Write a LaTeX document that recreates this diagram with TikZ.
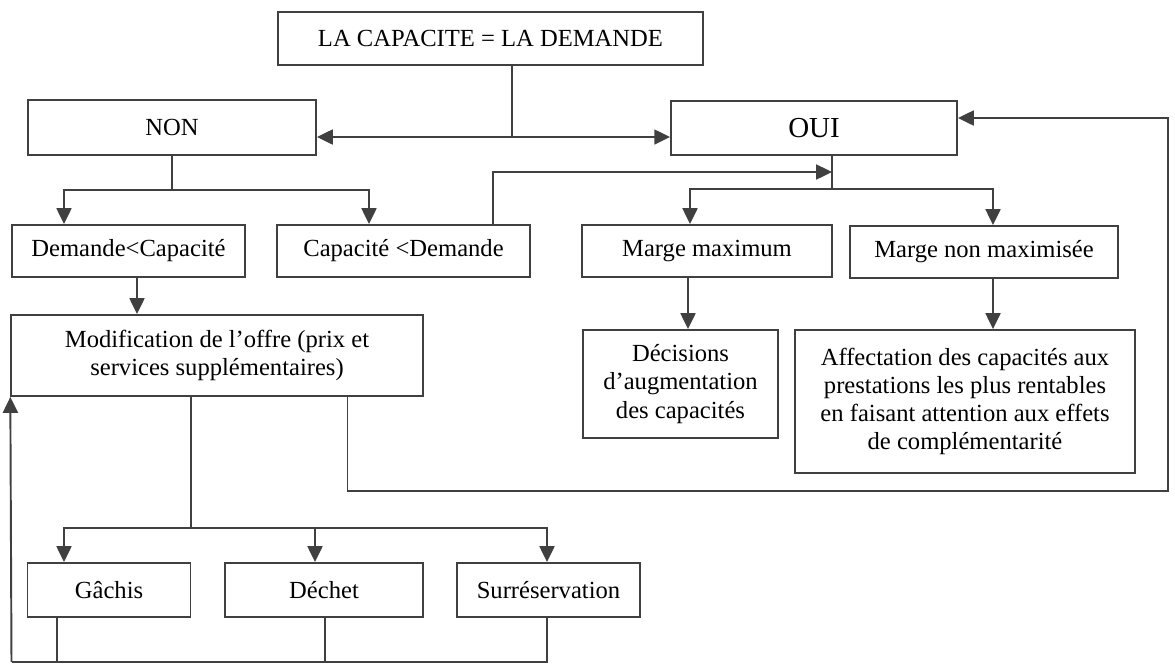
\documentclass[tikz,border=0pt]{standalone}
\usepackage{fontspec}
\setmainfont{Liberation Serif}
\usetikzlibrary{arrows.meta, calc}

\begin{document}
\begin{tikzpicture}[
  x=0.02cm, y=-0.02cm,
  box/.style={draw=black!75, line width=1.1pt, align=center, inner sep=2pt,
              font=\fontsize{14}{16}\selectfont},
  arr/.style={-{Triangle[length=9pt, width=8.5pt]}, draw=black!75, line width=1.1pt},
  wire/.style={draw=black!75, line width=1.1pt}
]
\useasboundingbox (0,0) rectangle (1175,664);

% rangee du haut
\node[box, minimum width=8.5cm, minimum height=1.06cm] (cap) at (490.5,38.5)
  {LA CAPACITE = LA DEMANDE};
\node[box, minimum width=5.76cm, minimum height=1.1cm] (non) at (172,127.5) {NON};
\node[box, minimum width=5.72cm, minimum height=1.08cm,
      font=\fontsize{16.5}{18}\selectfont] (oui) at (814,128) {OUI};

% deuxieme rangee
\node[box, minimum width=4.66cm, minimum height=1.04cm] (dc) at (128.5,251)
  {Demande<Capacité};
\node[box, minimum width=5.06cm, minimum height=1.04cm] (cd) at (403.5,251)
  {Capacité <Demande};
\node[box, minimum width=5cm, minimum height=1.04cm] (mmax) at (707,251)
  {Marge maximum};
\node[box, minimum width=5.36cm, minimum height=1.04cm] (mnon) at (984,252)
  {Marge non maximisée};

% troisieme rangee
\node[box, minimum width=8.23cm, minimum height=1.62cm] (modif) at (217,355.5)
  {Modification de l’offre (prix et\\services supplémentaires)};
\node[box, minimum width=3.9cm, minimum height=2.16cm] (decis) at (680.5,384)
  {Décisions\\d’augmentation\\des capacités};
\node[box, minimum width=6.8cm, minimum height=2.86cm] (affect) at (965,401.5)
  {Affectation des capacités aux\\prestations les plus rentables\\en faisant attention aux effets\\de complémentarité};

% rangee du bas
\node[box, minimum width=3.26cm, minimum height=1.08cm] (gachis) at (109,590) {Gâchis};
\node[box, minimum width=3.96cm, minimum height=1.08cm] (dechet) at (324,590) {Déchet};
\node[box, minimum width=3.66cm, minimum height=1.08cm] (surres) at (548.5,590) {Surréservation};

% points de jonction
\coordinate (j1) at (512,137);
\coordinate (j2) at (172,190);
\coordinate (j3) at (832,172);
\coordinate (j4) at (832,189);
\coordinate (j6) at (190.6,528);
\coordinate (r1) at (1168,491);
\coordinate (b1) at (11.5,662);
\coordinate (g1) at ($(gachis.south)+(-52,0)$);
\coordinate (d1) at ($(dechet.south)+(1,0)$);

\draw[wire] (cap.south -| j1) -- (j1);
\draw[arr] (j1) -- (non.east |- j1);
\draw[arr] (j1) -- (oui.west |- j1);

\draw[wire] (non.south) -- (j2);
\draw[arr] (j2) -| ($(dc.north)+(-64.5,0)$);
\draw[arr] (j2) -| ($(cd.north)+(-34.5,0)$);

\draw[arr] ($(cd.north)+(89.5,0)$) |- (j3);
\draw[wire] (oui.south -| j4) -- (j4);
\draw[arr] (j4) -| ($(mmax.north)+(-17,0)$);
\draw[arr] (j4) -| ($(mnon.north)+(9,0)$);

\draw[arr] ($(mmax.south)+(-19,0)$) -- ($(decis.north)+(7.5,0)$);
\draw[arr] ($(mnon.south)+(9,0)$) -- ($(affect.north)+(28,0)$);
\draw[arr] ($(dc.south)+(8.5,0)$) -- ($(modif.north)+(-80,0)$);

% retour vers OUI
\draw[arr] ($(modif.south)+(130.5,0)$) |- (r1) |- ($(oui.east)+(0,-10)$);

\draw[wire] (modif.south -| j6) -- (j6);
\draw[arr] (j6) -| ($(gachis.north)+(-45,0)$);
\draw[arr] (j6) -| ($(dechet.north)+(-9,0)$);
\draw[arr] (j6) -| ($(surres.north)+(-1.5,0)$);

% retour vers la modification de l'offre
\draw[wire] ($(surres.south)+(-1.5,0)$) |- (b1);
\draw[wire] (g1) -- (g1 |- b1);
\draw[wire] (d1) -- (d1 |- b1);
\draw[arr] (b1) -- (modif.south west);
\end{tikzpicture}
\end{document}
